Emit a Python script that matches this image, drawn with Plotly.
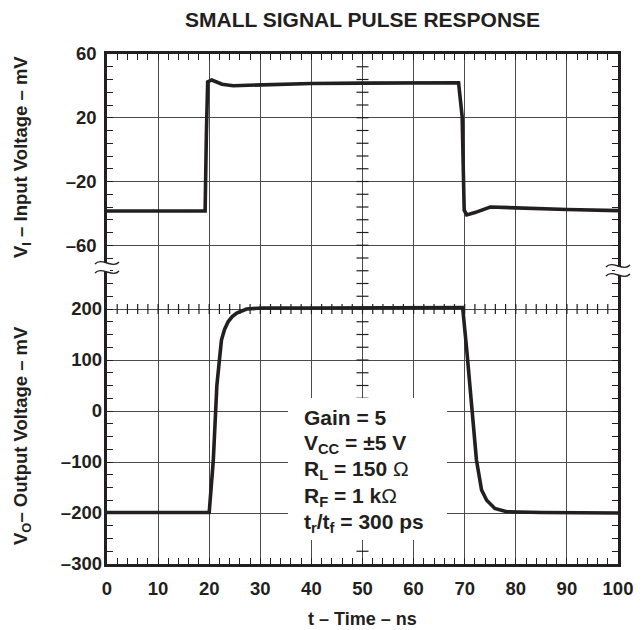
import plotly.graph_objects as go

# ---------------- data ----------------
t_in = [0, 19.2, 19.45, 19.7, 20.5, 21.5, 22.5, 24.7, 30, 40, 50, 60, 68.8,
        69.5, 69.9, 70.4, 72, 75, 80, 90, 100]
v_in = [-38.5, -38.5, 10, 42.5, 43.7, 42.6, 41.0, 40.1, 40.6, 41.5, 41.7, 41.9, 42.0,
        20.7, -38, -41, -39.5, -36, -36.6, -37.6, -38.3]

t_out = [0, 20, 20.8, 21.5, 22.0, 22.4, 23.0, 23.7, 24.5, 25.4, 27.3, 30.3, 40, 50, 60,
         69.6, 70.4, 71.4, 72.3, 73.3, 74.3, 75.9, 78.2, 85, 100]
v_out = [-199, -199, -97, 50, 100, 139, 160, 175, 185, 192, 200, 202, 202, 202, 202,
         203, 120, 2, -96, -155, -175, -191, -197.5, -199, -200]

x_tickvals = list(range(0, 101, 10))
x_ticktext = [str(v) for v in x_tickvals]
in_tickvals = [60, 20, -20, -60]
in_ticktext = ["60", "20", "–20", "–60"]
out_tickvals = [200, 100, 0, -100, -200, -300]
out_ticktext = ["200", "100", "0", "–100", "–200", "–300"]

notes = ["Gain = 5",
         "V<sub>CC</sub> = ±5 V",
         "R<sub>L</sub> = 150 <span style=\"font-weight:normal\">Ω</span>",
         "R<sub>F</sub> = 1 k<span style=\"font-weight:normal\">Ω</span>",
         "t<sub>r</sub>/t<sub>f</sub> = 300 ps"]

# ---------------- layout constants (page pixels) ----------------
PAGE_W, PAGE_H = 644, 630
OFF = 8                       # default body margin of the html page
PL, PR, PT, PB = 107, 618, 54, 564   # plot area on the page
W, H = PAGE_W - OFF, PAGE_H - OFF
ML, MT = PL - OFF, PT - OFF
MR, MB = PAGE_W - PR, PAGE_H - PB
PW, PH = PR - PL, PB - PT
X_RANGE = [0, 100]
IN_RANGE = [-260, 60]      # 8 mV per minor division, 40 divisions
OUT_RANGE = [-300, 700]    # 25 mV per minor division
FONT = "Liberation Sans, Arial, sans-serif"
INK = "#231f20"
GRID = "#4a4a4a"

def py(px):
    return 1 - (px - PT) / PH

def pxx(px):
    return (px - PL) / PW

def x_data(px):
    return X_RANGE[0] + (px - PL) / PW * (X_RANGE[1] - X_RANGE[0])

def yin_data(px):
    return IN_RANGE[1] - (px - PT) / PH * (IN_RANGE[1] - IN_RANGE[0])

def out_to_in(v):
    f = (v - OUT_RANGE[0]) / (OUT_RANGE[1] - OUT_RANGE[0])
    return IN_RANGE[0] + f * (IN_RANGE[1] - IN_RANGE[0])

fig = go.Figure()
fig.add_trace(go.Scatter(x=t_in, y=v_in, mode="lines", yaxis="y",
                         line=dict(color=INK, width=3.6), showlegend=False))
fig.add_trace(go.Scatter(x=t_out, y=v_out, mode="lines", yaxis="y2",
                         line=dict(color=INK, width=3.6), showlegend=False))

shapes = []
k = 1
while 60 - 8 * k > IN_RANGE[0]:
    shapes.append(dict(type="line", layer="between", xref="x", yref="y",
                       xsizemode="pixel", xanchor=50, x0=-6, x1=6,
                       y0=60 - 8 * k, y1=60 - 8 * k,
                       line=dict(color=INK, width=1.2)))
    k += 1
mid = out_to_in(200)
for t in range(2, 100, 2):
    shapes.append(dict(type="line", layer="between", xref="x", yref="y",
                       ysizemode="pixel", yanchor=mid, y0=-5, y1=5,
                       x0=t, x1=t, line=dict(color=INK, width=1.2)))
shapes.append(dict(type="rect", layer="between", xref="x", yref="y",
                   x0=x_data(288), x1=x_data(447), y0=yin_data(540), y1=yin_data(398),
                   fillcolor="white", line=dict(width=0)))
tilde = "M-12,-1 C-6,6 6,-6 12,1"
for xa, (ya, yb) in [(0, (263, 272)), (1, (266, 275))]:
    shapes.append(dict(type="rect", layer="above", xref="paper", yref="paper",
                       xsizemode="pixel", xanchor=xa, x0=-3, x1=3,
                       y0=py(yb), y1=py(ya), fillcolor="white", line=dict(width=0)))
    for yy in (ya, yb):
        shapes.append(dict(type="path", layer="above", xref="paper", yref="paper",
                           xsizemode="pixel", ysizemode="pixel", xanchor=xa, yanchor=py(yy),
                           path=tilde, line=dict(color=INK, width=1.3)))

ann = []
ann.append(dict(text="SMALL SIGNAL PULSE RESPONSE", xref="paper", yref="paper",
                x=0.5, y=1, yshift=PT - 19, yanchor="middle", showarrow=False,
                font=dict(family=FONT, size=21, color=INK, weight="bold")))
ann.append(dict(text="t – Time – ns", xref="paper", yref="paper",
                x=0.5, y=0, yshift=-(619 - PB), yanchor="middle", showarrow=False,
                font=dict(family=FONT, size=18, color=INK, weight="bold")))
ann.append(dict(text="V<sub>I</sub> – Input Voltage – mV", xref="paper", yref="paper",
                x=0, xshift=22 - PL, y=py(157), textangle=-90, showarrow=False,
                xanchor="center", yanchor="middle",
                font=dict(family=FONT, size=18.5, color=INK, weight="bold")))
ann.append(dict(text="V<sub>O</sub>– Output Voltage – mV", xref="paper", yref="paper",
                x=0, xshift=22 - PL, y=py(436), textangle=-90, showarrow=False,
                xanchor="center", yanchor="middle",
                font=dict(family=FONT, size=18.5, color=INK, weight="bold")))
for i, line in enumerate(notes):
    ann.append(dict(text=line, xref="paper", yref="paper", x=pxx(302),
                    y=py(417 + 26.5 * i), xanchor="left", yanchor="middle",
                    showarrow=False,
                    font=dict(family=FONT, size=21, color=INK, weight="bold")))

tickfont = dict(family=FONT, size=18.5, color=INK, weight="bold")
fig.update_layout(
    width=W, height=H, margin=dict(l=ML, r=MR, t=MT, b=MB, autoexpand=False),
    paper_bgcolor="white", plot_bgcolor="white",
    xaxis=dict(range=X_RANGE, tickmode="array", tickvals=x_tickvals, ticktext=x_ticktext,
               showgrid=True, gridcolor=GRID, gridwidth=1.2, zeroline=False,
               showline=True, linecolor=INK, linewidth=2.6, mirror="ticks",
               ticks="inside", ticklen=6, tickcolor=INK, tickwidth=1.2,
               minor=dict(tickmode="linear", tick0=0, dtick=2, ticks="inside",
                          ticklen=6, tickcolor=INK, tickwidth=1.2, showgrid=False),
               tickfont=tickfont, ticklabelstandoff=6),
    yaxis=dict(range=IN_RANGE, tickmode="array", tickvals=in_tickvals, ticktext=in_ticktext,
               showgrid=True, gridcolor=GRID, gridwidth=1.2, zeroline=False,
               showline=True, linecolor=INK, linewidth=2.6, mirror="ticks",
               ticks="inside", ticklen=6, tickcolor=INK, tickwidth=1.2,
               minor=dict(tickmode="linear", tick0=60, dtick=8, ticks="inside",
                          ticklen=6, tickcolor=INK, tickwidth=1.2, showgrid=False),
               tickfont=tickfont, ticklabelstandoff=4),
    yaxis2=dict(range=OUT_RANGE, overlaying="y", side="left", tickmode="array",
                tickvals=out_tickvals, ticktext=out_ticktext,
                showgrid=True, gridcolor=GRID, gridwidth=1.2, zeroline=False,
                showline=False, ticks="", tickfont=tickfont, ticklabelstandoff=4),
    shapes=shapes, annotations=ann, showlegend=False,
)
fig.write_html("out.html")
